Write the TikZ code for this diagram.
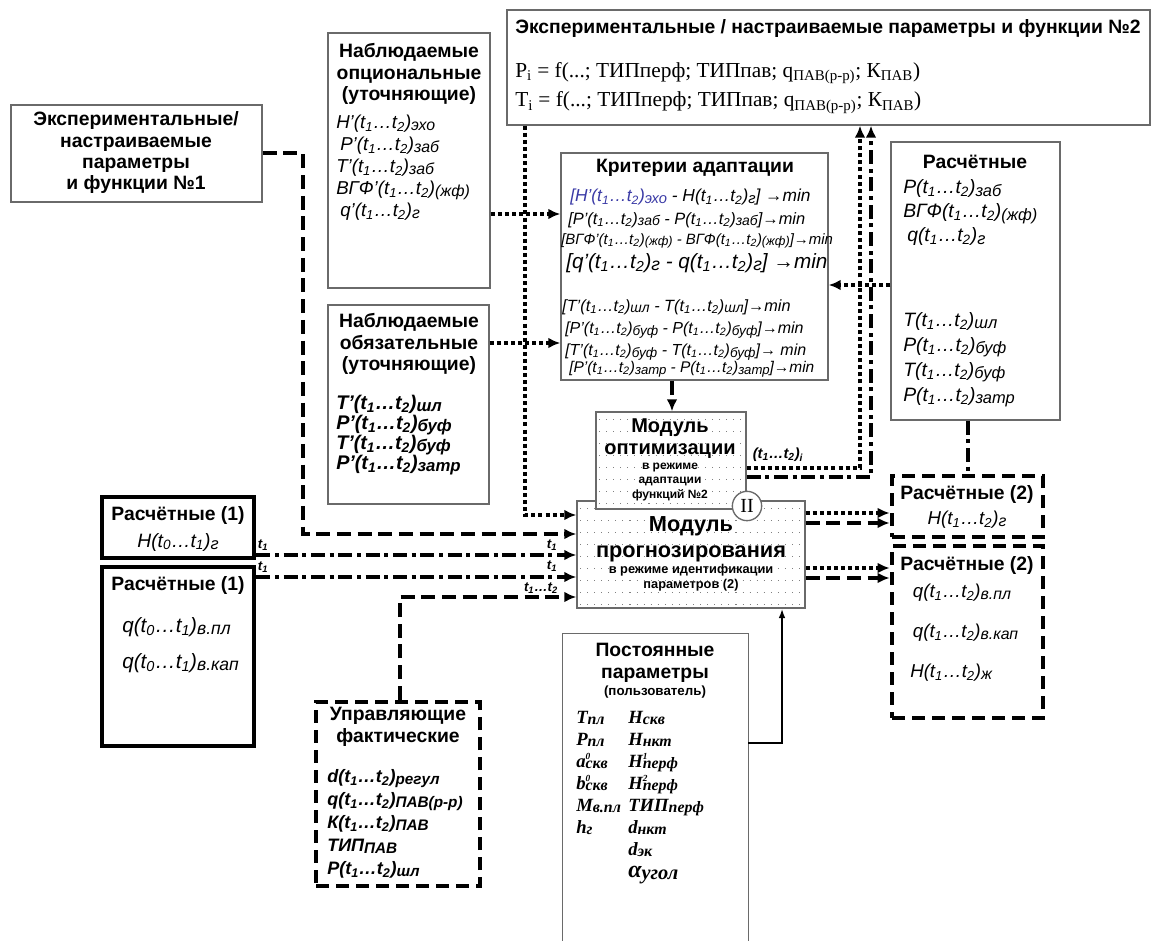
\documentclass[tikz,border=0pt]{standalone}
\usepackage{fontspec}
\setmainfont{Liberation Sans}
\newfontfamily\tnr{Liberation Serif}
\usepackage{graphicx}
\usepackage{tikz}
\definecolor{gray600}{HTML}{6A6A6A}
\definecolor{blue700}{HTML}{3A3AA6}
\usetikzlibrary{arrows.meta,fit}
\newcommand{\lo}[1]{\raisebox{-0.2ex}{\scalebox{0.85}{#1}}}
\newcommand{\tot}{(t\textsubscript{1}…t\textsubscript{2})}
\newcommand{\tzo}{(t\textsubscript{0}…t\textsubscript{1})}
\newcommand{\upl}[2]{#1\rlap{\raisebox{0.9ex}{\scalebox{0.5}{#2}}}}
\tikzstyle{panel}=[draw=gray600, line width=1pt, fill=white, inner sep=0pt]
\tikzstyle{heavypanel}=[draw=black, line width=3.5pt, fill=white, inner sep=0pt]
\tikzstyle{dashpanel}=[heavypanel, dash pattern=on 10pt off 5pt]
\tikzstyle{panelhead}=[font=\bfseries\fontsize{14.5}{16}\selectfont, align=center, inner sep=0pt]
\tikzstyle{itemtxt}=[font=\itshape\fontsize{14}{16.5}\selectfont, align=left, anchor=west, inner sep=0pt]
\tikzstyle{tlabel}=[font=\bfseries\itshape\fontsize{10}{10}\selectfont, inner sep=0pt]
\tikzstyle{wire}=[line width=3pt]
\tikzstyle{dotlink}=[wire, dash pattern=on 3pt off 2.3pt]
\tikzstyle{dashlink}=[wire, dash pattern=on 10.5pt off 5pt]
\tikzstyle{dashdotlink}=[wire, dash pattern=on 10.5pt off 3.5pt on 3pt off 3.5pt]
\tikzstyle{into}=[-{Latex[length=9pt,width=8pt]}]
\tikzstyle{griddot}=[gray, line width=0.6pt, dash pattern=on 0.8pt off 4.5pt]

\begin{document}
\begin{tikzpicture}[x=0.75pt,y=-0.75pt]
\useasboundingbox (0,0) rectangle (1160,941);

% panels
\node[panel, fit={(11,105) (262,202)}] (expA) {};
\node[panel, fit={(507,10) (1150,125)}] (expB) {};
\node[panel, fit={(328,33) (490,288)}] (obsOpt) {};
\node[panel, fit={(328,305) (489,504)}] (obsReq) {};
\node[panel, fit={(561,153) (828,380)}] (crit) {};
\node[panel, fit={(891,142) (1060,420)}] (calc) {};
\node[heavypanel, fit={(102,497) (254,558)}] (calcAH) {};
\node[heavypanel, fit={(102,567) (254,746)}] (calcAQ) {};
\node[dashpanel, fit={(892,476) (1043,537)}] (calcBH) {};
\node[dashpanel, fit={(892,546) (1043,718)}] (calcBQ) {};
\node[dashpanel, fit={(316,702) (480,886)}] (ctrl) {};
\node[inner sep=0pt, fit={(563,634) (748,941)}] (const) {};
\draw[draw=gray600, line width=1pt] (const.south west) |- (const.north east) -- (const.south east);

% modules with dotted background
\node[panel, fit={(577,501) (805,608)}] (prgMod) {};
\foreach \yy in {508,520,...,604} \draw[griddot] (580,\yy) -- (802,\yy);
\node[panel, fit={(596,412) (746,509)}] (optMod) {};
\foreach \yy in {419,431,...,503} \draw[griddot] (599,\yy) -- (743,\yy);
\node[panel, circle, minimum size=22pt, font=\tnr\fontsize{15}{15}\selectfont] (stage) at (747,506) {II};

% connectors
\coordinate (bendA) at (303,534);
\draw[dashlink, into] (expA.east) -| (bendA) -- (bendA -| prgMod.west);
\coordinate (dropB) at (525,515);
\draw[dotlink, into] (dropB |- expB.south) -- (dropB) -- (dropB -| prgMod.west);
\draw[dotlink, into] (obsOpt.east |- 0,214) -- (crit.west |- 0,214);
\draw[dotlink, into] (obsReq.east |- 0,343) -- (crit.west |- 0,343);
\draw[dotlink, into] (calc.west |- 0,285) -- (crit.east |- 0,285);
\draw[dashlink, into] (crit.south -| 672,0) -- (optMod.north -| 672,0);
\draw[dotlink, into] (optMod.east |- 0,468) -| (expB.south -| 860,0);
\draw[dashdotlink, into] (optMod.east |- 0,477) -| (expB.south -| 871,0);
\draw[dashdotlink] (calc.south -| 968,0) -- (calcBH.north -| 968,0);
\draw[dotlink, into] (prgMod.east |- 0,513) -- (calcBH.west |- 0,513);
\draw[dashlink, into] (prgMod.east |- 0,523) -- (calcBH.west |- 0,523);
\draw[dotlink, into] (prgMod.east |- 0,568) -- (calcBQ.west |- 0,568);
\draw[dashlink, into] (prgMod.east |- 0,578) -- (calcBQ.west |- 0,578);
\draw[dashdotlink, into] (calcAH.east |- 0,555) -- (prgMod.west |- 0,555);
\draw[dashdotlink, into] (calcAQ.east |- 0,577) -- (prgMod.west |- 0,577);
\draw[dashlink, into] (ctrl.north -| 400,0) |- (prgMod.west |- 0,597);
\draw[line width=1.5pt, -{Latex[length=7pt,width=5pt]}] (const.east |- 0,743) -| (prgMod.south -| 782,0);

% time labels
\node[tlabel] (tA1) at (263,545) {t\textsubscript{1}};
\node[tlabel] (tA2) at (263,567) {t\textsubscript{1}};
\node[tlabel] (tB1) at (552,545) {t\textsubscript{1}};
\node[tlabel] (tB2) at (552,566) {t\textsubscript{1}};
\node[tlabel] (tB3) at (541,588) {t\textsubscript{1}…t\textsubscript{2}};
\node[tlabel, font=\bfseries\itshape\fontsize{11}{11}\selectfont] (tOpt) at (778,455) {\tot\textsubscript{i}};

% texts
\node[panelhead] (expAtxt) at (136,153) {Экспериментальные/\\настраиваемые\\параметры\\и функции №1};
\node[panelhead, anchor=west] (expBtxt) at (515,29) {Экспериментальные / настраиваемые параметры и функции №2};
\node[itemtxt, font=\tnr\fontsize{16}{22}\selectfont] (expBfun) at (515,88) {P\textsubscript{i} = f(...; ТИПперф; ТИПпав; q\textsubscript{ПАВ(р-р)}; К\textsubscript{ПАВ})\\T\textsubscript{i} = f(...; ТИПперф; ТИПпав; q\textsubscript{ПАВ(р-р)}; К\textsubscript{ПАВ})};

\node[panelhead] (obsOptHead) at (409,74) {Наблюдаемые\\опциональные\\(уточняющие)};
\node[itemtxt] (obsOptList) at (336,168) {H’\tot\lo{эхо}\\\hspace*{3pt}P’\tot\lo{заб}\\T’\tot\lo{заб}\\ВГФ’\tot\lo{(жф)}\\\hspace*{3pt}q’\tot\lo{г}};

\node[panelhead] (obsReqHead) at (409,344) {Наблюдаемые\\обязательные\\(уточняющие)};
\node[itemtxt, font=\bfseries\itshape\fontsize{14.8}{15}\selectfont] (obsReqList) at (336,435) {T’\tot\lo{шл}\\P’\tot\lo{буф}\\T’\tot\lo{буф}\\P’\tot\lo{затр}};

\node[panelhead] (critHead) at (695,168) {Критерии адаптации};
\node[itemtxt, font=\itshape\fontsize{13}{14}\selectfont] (critR1) at (570,197) {{\color{blue700}[H’\tot\lo{эхо}} - H\tot\lo{г}] →min};
\node[itemtxt, font=\itshape\fontsize{12.3}{14}\selectfont] (critR2) at (568,220) {[P’\tot\lo{заб} - P\tot\lo{заб}]→min};
\node[itemtxt, font=\itshape\fontsize{11.2}{12}\selectfont] (critR3) at (561,241) {[ВГФ’\tot\lo{(жф)} - ВГФ\tot\lo{(жф)}]→min};
\node[itemtxt, font=\itshape\fontsize{15.5}{18}\selectfont] (critR4) at (566,263) {[q’\tot\lo{г} - q\tot\lo{г}] →min};
\node[itemtxt, font=\itshape\fontsize{12.2}{14}\selectfont] (critR5) at (562,307) {[T’\tot\lo{шл} - T\tot\lo{шл}]→min};
\node[itemtxt, font=\itshape\fontsize{12}{14}\selectfont] (critR6) at (565,330) {[P’\tot\lo{буф} - P\tot\lo{буф}]→min};
\node[itemtxt, font=\itshape\fontsize{12}{14}\selectfont] (critR7) at (565,352) {[T’\tot\lo{буф} - T\tot\lo{буф}]→ min};
\node[itemtxt, font=\itshape\fontsize{11.6}{14}\selectfont] (critR8) at (569,369) {[P’\tot\lo{затр} - P\tot\lo{затр}]→min};

\node[panelhead] (calcHead) at (975,162) {Расчётные};
\node[itemtxt, font=\itshape\fontsize{14.5}{18}\selectfont] (calcTop) at (903,213) {P\tot\lo{заб}\\ВГФ\tot\lo{(жф)}\\\hspace*{3pt}q\tot\lo{г}};
\node[itemtxt, font=\itshape\fontsize{14.5}{18.75}\selectfont] (calcLow) at (903,360) {T\tot\lo{шл}\\P\tot\lo{буф}\\T\tot\lo{буф}\\P\tot\lo{затр}};

\node[panelhead] (calcAHHead) at (178,515) {Расчётные (1)};
\node[itemtxt, anchor=center, font=\itshape\fontsize{14.5}{16}\selectfont] (calcAHItem) at (178,542) {H\tzo\lo{г}};
\node[panelhead] (calcAQHead) at (178,585) {Расчётные (1)};
\node[itemtxt, font=\itshape\fontsize{15.5}{27}\selectfont] (calcAQList) at (122,645) {q\tzo\lo{в.пл}\\q\tzo\lo{в.кап}};

\node[panelhead, font=\bfseries\fontsize{15}{16.5}\selectfont] (optHead) at (670,439) {Модуль\\оптимизации};
\node[panelhead, font=\bfseries\fontsize{9}{10.9}\selectfont] (optNote) at (670,482) {в режиме\\адаптации\\функций №2};
\node[panelhead, font=\bfseries\fontsize{16.3}{19.5}\selectfont] (prgHead) at (691,539) {Модуль\\прогнозирования};
\node[panelhead, font=\bfseries\fontsize{9.6}{11.25}\selectfont] (prgNote) at (691,578) {в режиме идентификации\\параметров (2)};

\node[panelhead] (calcBHHead) at (967,494) {Расчётные (2)};
\node[itemtxt, anchor=center] (calcBHItem) at (967,520) {H\tot\lo{г}};
\node[panelhead] (calcBQHead) at (967,565) {Расчётные (2)};
\node[itemtxt, font=\itshape\fontsize{14}{30}\selectfont] (calcBQList) at (910,633) {\hspace*{2pt}q\tot\lo{в.пл}\\\hspace*{2pt}q\tot\lo{в.кап}\\H\tot\lo{ж}};

\node[panelhead] (ctrlHead) at (398,727) {Управляющие\\фактические};
\node[itemtxt, font=\bfseries\itshape\fontsize{13.5}{17.25}\selectfont] (ctrlList) at (327,824) {d\tot\lo{регул}\\q\tot\lo{ПАВ(р-р)}\\К\tot\lo{ПАВ}\\ТИП\lo{ПАВ}\\P\tot\lo{шл}};

\node[panelhead] (constHead) at (655,663) {Постоянные\\параметры};
\node[panelhead, font=\bfseries\fontsize{10}{10}\selectfont] (constNote) at (655,692) {(пользователь)};
\node[itemtxt, font=\tnr\bfseries\itshape\fontsize{14}{16.5}\selectfont] (constColA) at (576,773) {T\lo{пл}\\P\lo{пл}\\\upl{a}{0}\lo{скв}\\\upl{b}{0}\lo{скв}\\M\lo{в.пл}\\h\lo{г}};
\node[itemtxt, font=\tnr\bfseries\itshape\fontsize{14}{16.5}\selectfont] (constColB) at (628,784) {H\lo{скв}\\H\lo{нкт}\\\upl{H}{1}\lo{перф}\\\upl{H}{2}\lo{перф}\\ТИП\lo{перф}\\d\lo{нкт}\\d\lo{эк}};
\node[itemtxt, font=\tnr\bfseries\itshape\fontsize{18}{18}\selectfont] (constAlpha) at (628,875) {α\lo{угол}};
\end{tikzpicture}
\end{document}
